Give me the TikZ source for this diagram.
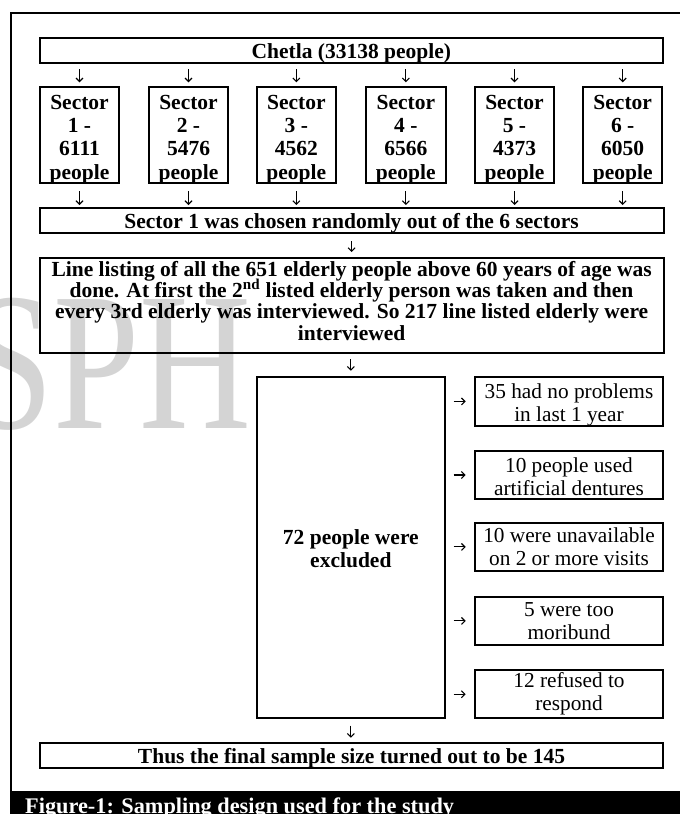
\documentclass[tikz,border=0pt]{standalone}
\usepackage{fontspec}
\setmainfont{Liberation Serif}
\usetikzlibrary{arrows.meta}
\begin{document}
\begin{tikzpicture}[x=1pt,y=-1pt,
  box/.style={draw, line width=2pt, inner sep=0pt},
  bigbox/.style={box, minimum width=623.8pt},
  sectbox/.style={box, minimum width=79.5pt, minimum height=95.4pt},
  rbox/.style={box, minimum width=188pt, minimum height=48.5pt},
  txt/.style={inner sep=0pt, align=center},
  btxt/.style={txt, font=\fontsize{21.5}{21.3}\selectfont\bfseries},
  stxt/.style={txt, font=\fontsize{21.5}{23.3}\selectfont\bfseries},
  etxt/.style={txt, font=\fontsize{21.5}{22.7}\selectfont\bfseries},
  rtxt/.style={txt, font=\fontsize{21.3}{23}\selectfont},
  arr/.style={-{Straight Barb[length=3.5pt,width=7pt]}, line width=1.1pt}]
\useasboundingbox (0,0) rectangle (680,814);
% watermark
\node[anchor=base west, inner sep=0pt, text=black!17, yscale=1.27,
  font=\fontsize{155}{155}\selectfont] (wm) at (-33,428) {SPH};
% outer frame and caption band
\draw[line width=2pt] (680,13.3) -- (11,13.3) -- (11,790.5);
\fill[black] (10,790.5) rectangle (680,814);
\node[anchor=base west, inner sep=0pt, text=white,
  font=\fontsize{22.3}{24}\selectfont\bfseries] (cap) at (25,813)
  {Figure-1: Sampling design used for the study};
% boxes
\node[bigbox, minimum height=24.4pt] (chetla) at (351.4,50.5) {};
\node[btxt] (chetlat) at ([yshift=-2.5pt]chetla.center) {Chetla (33138 people)};
\foreach \i/\x/\n in {1/79.5/6111, 2/188.5/5476, 3/296.3/4562, 4/405.8/6566, 5/514.5/4373, 6/622.7/6050} {
  \node[sectbox] (s\i) at (\x,135) {};
  \node[stxt] (st\i) at ([yshift=-4.5pt]s\i.center) {Sector\\ \i\ -\\ \n\\ people};
}
\node[bigbox, minimum height=24.4pt] (chosen) at (351.6,220.5) {};
\node[btxt] (chosent) at ([yshift=-3pt]chosen.center) {Sector 1 was chosen randomly out of the 6 sectors};
\node[bigbox, minimum height=95pt] (listing) at (351.6,305.2) {};
\node[btxt] (listingt) at ([yshift=4.5pt]listing.center)
  {Line listing of all the 651 elderly people above 60 years of age was\\
   done. At first the 2\smash{\textsuperscript{nd}} listed elderly person was taken and then\\
   every 3rd elderly was interviewed. So 217 line listed elderly were\\
   interviewed};
\node[box, minimum width=188.3pt, minimum height=340.5pt] (excl) at (350.85,547.25) {};
\node[etxt] (exclt) at ([yshift=-1.5pt]excl.center) {72 people were\\ excluded};
\node[rbox] (r1) at (569,401.4) {};
\node[rtxt] (r1t) at ([yshift=-4pt]r1.center) {35 had no problems\\ in last 1 year};
\node[rbox] (r2) at (569,475) {};
\node[rtxt] (r2t) at ([yshift=-1.5pt]r2.center) {10 people used\\ artificial dentures};
\node[rbox] (r3) at (569,546.9) {};
\node[rtxt] (r3t) at (r3.center) {10 were unavailable\\ on 2 or more visits};
\node[rbox] (r4) at (569,620.9) {};
\node[rtxt] (r4t) at (r4.center) {5 were too\\ moribund};
\node[rbox] (r5) at (569,694.2) {};
\node[rtxt] (r5t) at (r5.center) {12 refused to\\ respond};
\node[bigbox, minimum height=25.6pt] (final) at (351.5,755.5) {};
\node[btxt] (finalt) at ([yshift=-2.5pt]final.center) {Thus the final sample size turned out to be 145};
% connectors
\foreach \i in {1,...,6} {
  \draw[arr, shorten <=5.6pt, shorten >=4pt] (chetla.south -| s\i) -- (s\i.north);
  \draw[arr, shorten <=7.3pt, shorten >=2.3pt] (s\i.south) -- (s\i.south |- chosen.north);
}
\draw[arr, shorten <=7.3pt, shorten >=4.7pt] (chosen.south) -- (listing.north);
\draw[arr, shorten <=5.6pt, shorten >=5.3pt] (listing.south -| excl.north) -- (excl.north);
\draw[arr, shorten <=7pt, shorten >=4pt] (excl.south) -- (excl.south |- final.north);
\foreach \j in {1,...,5}
  \draw[arr, shorten <=7.7pt, shorten >=8.3pt] (excl.east |- r\j.west) -- (r\j.west);
\end{tikzpicture}
\end{document}
